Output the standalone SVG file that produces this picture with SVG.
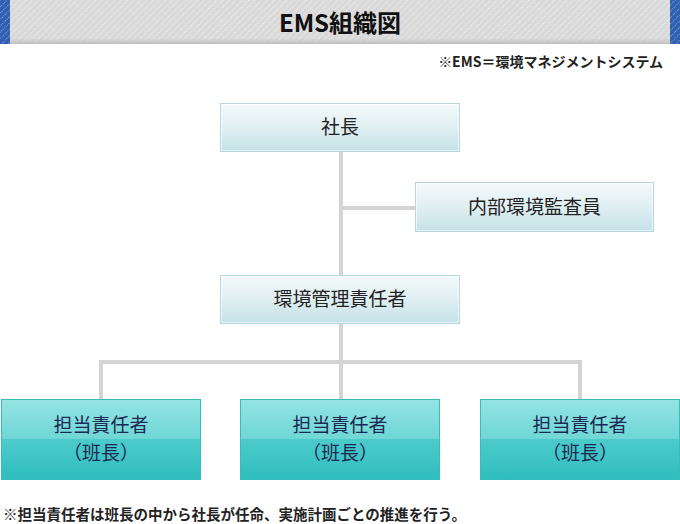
<svg xmlns="http://www.w3.org/2000/svg" width="680" height="524" viewBox="0 0 680 524">
<style>
text{font-family:"Noto Sans CJK JP","Noto Sans",sans-serif}
.title{font-size:24px;font-weight:bold;fill:#111}
.note{font-size:14px;font-weight:bold;fill:#222}
.lbl{font-size:19px;fill:#222;text-anchor:middle}
.lbl2{font-size:19px;fill:#1b2a52;text-anchor:middle}
.conn{stroke:#d4d4d4;stroke-width:4;fill:none}
.topbox{fill:url(#gTop);stroke:#b6d6dd;stroke-width:1}
.topin{fill:none;stroke:#ffffff;stroke-opacity:0.6;stroke-width:1}
.botbox{fill:url(#gBot);stroke:#39bcbc;stroke-width:1}
</style>
<defs>
<pattern id="pGray" width="4.5" height="10" patternUnits="userSpaceOnUse" patternTransform="rotate(45)">
<rect width="4.5" height="10" fill="#d9d9d9"/>
<line x1="0.5" y1="0" x2="0.5" y2="10" stroke="#f0f0f0" stroke-width="1" stroke-dasharray="1 1"/>
</pattern>
<pattern id="pBlue" width="4.5" height="10" patternUnits="userSpaceOnUse" patternTransform="rotate(45)">
<rect width="4.5" height="10" fill="#2f5fae"/>
<line x1="0.5" y1="0" x2="0.5" y2="10" stroke="#86a8e2" stroke-width="1" stroke-dasharray="1 1"/>
</pattern>
<linearGradient id="gTop" x1="0" y1="0" x2="0" y2="1">
<stop offset="0" stop-color="#f4f9fa"/>
<stop offset="0.5" stop-color="#e0eff2"/>
<stop offset="1" stop-color="#c3e1e8"/>
</linearGradient>
<linearGradient id="gBot" x1="0" y1="0" x2="0" y2="1">
<stop offset="0" stop-color="#95e4e4"/>
<stop offset="0.5" stop-color="#6ed6d6"/>
<stop offset="0.5" stop-color="#4dcbcb"/>
<stop offset="1" stop-color="#2fbdbd"/>
</linearGradient>
<linearGradient id="gShade" x1="0" y1="0" x2="0" y2="1">
<stop offset="0" stop-color="#c8c8c8" stop-opacity="0"/>
<stop offset="1" stop-color="#bdbdbd" stop-opacity="1"/>
</linearGradient>
</defs>

<g id="header">
<rect x="0" y="0" width="680" height="44" fill="url(#pGray)"/>
<rect x="0" y="38" width="680" height="6" fill="url(#gShade)"/>
<rect x="0" y="0" width="10" height="44" fill="url(#pBlue)"/>
<rect x="670" y="0" width="10" height="44" fill="url(#pBlue)"/>
<text class="title" x="340" y="32" text-anchor="middle">EMS組織図</text>
</g>
<text class="note" x="663" y="67" text-anchor="end">※EMS＝環境マネジメントシステム</text>

<g id="connectors">
<line class="conn" x1="341" y1="152" x2="341" y2="275"/>
<line class="conn" x1="341" y1="208" x2="415" y2="208"/>
<line class="conn" x1="341" y1="324" x2="341" y2="399"/>
<polyline class="conn" points="101,399 101,362 580,362 580,399"/>
</g>

<g id="president">
<rect class="topbox" x="220.5" y="103.5" width="239" height="48"/>
<rect class="topin" x="221.5" y="104.5" width="237" height="46"/>
<text class="lbl" x="340" y="134">社長</text>
</g>
<g id="auditor">
<rect class="topbox" x="415.5" y="182.5" width="238" height="49"/>
<rect class="topin" x="416.5" y="183.5" width="236" height="47"/>
<text class="lbl" x="534.5" y="214">内部環境監査員</text>
</g>
<g id="manager">
<rect class="topbox" x="220.5" y="275.5" width="239" height="48"/>
<rect class="topin" x="221.5" y="276.5" width="237" height="46"/>
<text class="lbl" x="340" y="306">環境管理責任者</text>
</g>
<g id="leader1">
<rect class="botbox" x="1.5" y="399.5" width="199" height="80"/>
<text class="lbl2" x="101" y="432">担当責任者</text>
<text class="lbl2" x="101" y="460">（班長）</text>
</g>
<g id="leader2">
<rect class="botbox" x="240.5" y="399.5" width="199" height="80"/>
<text class="lbl2" x="340" y="432">担当責任者</text>
<text class="lbl2" x="340" y="460">（班長）</text>
</g>
<g id="leader3">
<rect class="botbox" x="480.5" y="399.5" width="199" height="80"/>
<text class="lbl2" x="580" y="432">担当責任者</text>
<text class="lbl2" x="580" y="460">（班長）</text>
</g>

<text class="note" x="3" y="520" style="font-size:14.5px">※担当責任者は班長の中から社長が任命、実施計画ごとの推進を行う。</text>
</svg>
